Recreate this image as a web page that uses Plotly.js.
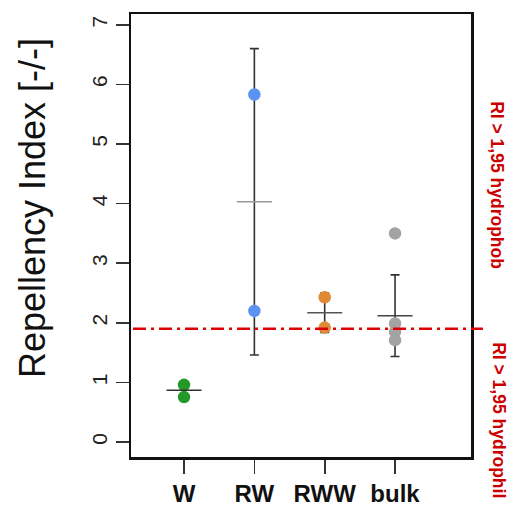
<!DOCTYPE html>
<html>
<head>
<meta charset="utf-8">
<script src="https://cdn.plot.ly/plotly-3.0.1.min.js"></script>
<style>html,body{margin:0;padding:0;background:#fff}#chart{width:512px;height:531px}</style>
</head>
<body>
<div id="chart"></div>
<script>
// ---- data ----
const categories = ['W', 'RW', 'RWW', 'bulk'];
const positions = [1, 2, 3, 4];
const pointsW = [0.96, 0.755];
const pointsRW = [5.83, 2.2];
const pointsRWW = [2.43, 1.92];
const pointsBulk = [3.5, 1.99, 1.85, 1.71];
const means = [0.87, 4.03, 2.17, 2.12];
const sds = [0.14, 2.57, 0.33, 0.685];
const threshold = 1.9;
const yTicks = [0, 1, 2, 3, 4, 5, 6, 7];

const groupPoints = [pointsW, pointsRW, pointsRWW, pointsBulk];
const groupColors = ['#23992a', '#5b93f2', '#e08a35', '#a3a3a3'];

const traces = [];
// error bars (drawn first, under the points)
traces.push({
  type: 'scatter', mode: 'markers', x: positions, y: means,
  marker: {size: 1, opacity: 0},
  error_y: {type: 'data', array: sds, visible: true, width: 4.5, thickness: 1.6, color: '#333'},
  hoverinfo: 'skip', showlegend: false
});
// individual points
groupPoints.forEach((pts, i) => {
  traces.push({
    type: 'scatter', mode: 'markers',
    x: pts.map(() => positions[i]), y: pts,
    marker: {symbol: 'circle', size: 12.5, color: groupColors[i], line: {width: 0}},
    showlegend: false
  });
});
// mean lines
traces.push({
  type: 'scatter', mode: 'markers', x: positions, y: means,
  marker: {symbol: 'line-ew', size: 25, line: {width: 1.6, color: ['#333', '#999', '#555', '#444']}},
  showlegend: false
});

const font = 'Liberation Sans, Arial, sans-serif';
const layout = {
  width: 512, height: 531,
  margin: {l: 131, r: 41, t: 14, b: 74, pad: 0},
  paper_bgcolor: '#fff', plot_bgcolor: '#fff',
  showlegend: false,
  font: {family: font, color: '#111'},
  xaxis: {
    range: [0.246, 5.08], tickvals: positions, ticktext: categories,
    showgrid: false, zeroline: false,
    showline: true, mirror: true, linecolor: '#111', linewidth: 2.5,
    ticks: 'outside', ticklen: 14, tickwidth: 1.6, tickcolor: '#333',
    tickfont: {family: font, size: 24, color: '#111', weight: 'bold'},
    ticklabelstandoff: 0
  },
  yaxis: {
    range: [-0.25, 7.18], tickvals: yTicks,
    showgrid: false, zeroline: false,
    showline: true, mirror: true, linecolor: '#111', linewidth: 2.5,
    ticks: 'outside', ticklen: 13, tickwidth: 1.6, tickcolor: '#333',
    tickangle: -90, ticklabelstandoff: 0,
    tickfont: {family: font, size: 21, color: '#222'}
  },
  shapes: [{
    type: 'line', xref: 'paper', yref: 'y',
    x0: 0.006, x1: 1.035, y0: threshold, y1: threshold,
    line: {color: '#dd0000', width: 2.5, dash: '13px,5px,3px,5px'}
  }],
  annotations: [
    {text: 'Repellency Index [-/-]', textangle: -90, showarrow: false,
     xref: 'paper', yref: 'paper', x: -0.291, y: 0.562, xanchor: 'center', yanchor: 'middle',
     font: {family: font, size: 36, color: '#111'}},
    {text: 'RI > 1,95 hydrophob', textangle: 90, showarrow: false,
     xref: 'paper', yref: 'paper', x: 1.076, y: 0.614, xanchor: 'center', yanchor: 'middle',
     font: {family: font, size: 17.5, color: '#cc0000', weight: 'bold'}},
    {text: 'RI > 1,95 hydrophil', textangle: 90, showarrow: false,
     xref: 'paper', yref: 'paper', x: 1.082, y: 0.264, xanchor: 'center', yanchor: 'top',
     font: {family: font, size: 17.5, color: '#cc0000', weight: 'bold'}}
  ]
};

Plotly.newPlot('chart', traces, layout, {staticPlot: true, displayModeBar: false});
</script>
</body>
</html>
